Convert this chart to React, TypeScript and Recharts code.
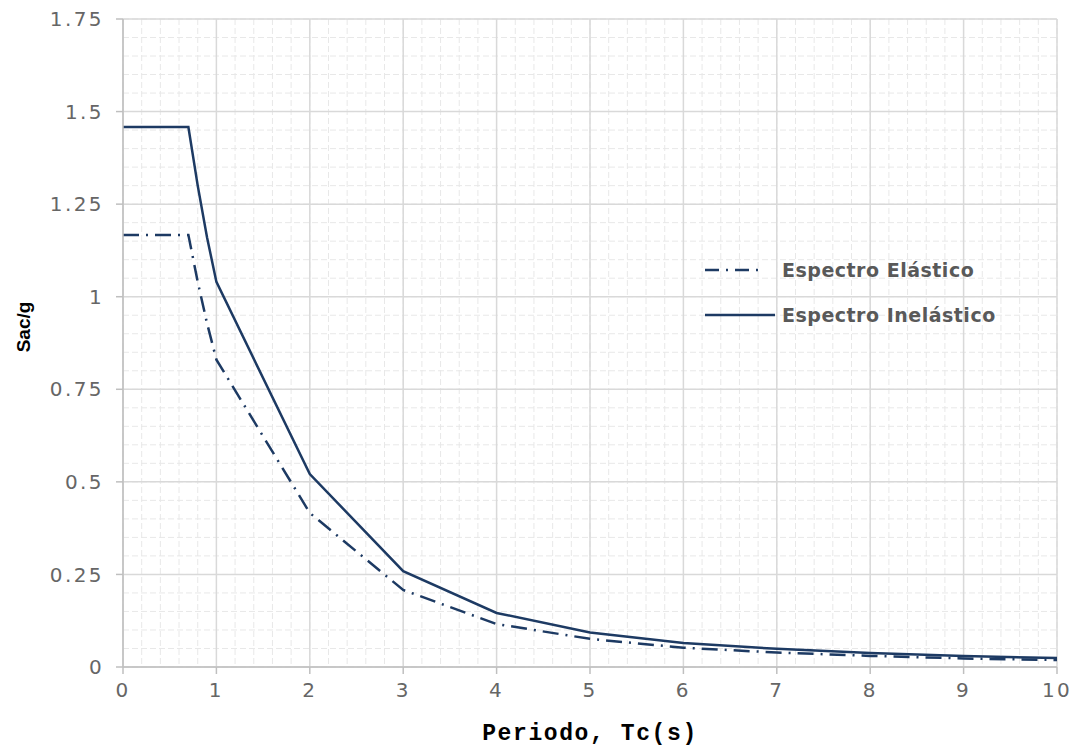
import React from "react"
import {
  LineChart,
  Line,
  XAxis,
  YAxis,
  CartesianGrid,
} from "recharts"

const periods = [0, 0.7, 0.8, 0.9, 1, 2, 3, 4, 5, 6, 7, 8, 9, 10]
const elastic = [1.167, 1.167, 1.04, 0.928, 0.83, 0.416, 0.208, 0.116, 0.076, 0.052, 0.039, 0.03, 0.023, 0.019]
const inelastic = [1.458, 1.458, 1.3, 1.16, 1.04, 0.521, 0.259, 0.146, 0.093, 0.065, 0.049, 0.038, 0.03, 0.024]

const xTicks = [0, 1, 2, 3, 4, 5, 6, 7, 8, 9, 10]
const yTicks = [0, 0.25, 0.5, 0.75, 1, 1.25, 1.5, 1.75]
const xMinor = Array.from({ length: 51 }, (_, i) => +(i * 0.2).toFixed(2))
const yMinor = Array.from({ length: 36 }, (_, i) => +(i * 0.05).toFixed(2))

const data = periods.map((t, i) => ({ t, elastic: elastic[i], inelastic: inelastic[i] }))

const LINE = "#1d3a63"
const TICK_FONT = { fontFamily: "DejaVu Sans", fontSize: 20, fill: "#666", letterSpacing: 2.4 }

// minor grid at 0.2 / 0.05 steps
const minorX = ({ xAxis, offset }: any) =>
  xMinor.map((v) =>
    typeof xAxis?.scale === "function" ? xAxis.scale(v) : offset.left + (v / 10) * offset.width
  )
const minorY = ({ yAxis, offset }: any) =>
  yMinor.map((v) =>
    typeof yAxis?.scale === "function" ? yAxis.scale(v) : offset.top + offset.height - (v / 1.75) * offset.height
  )

const LegendBox = () => (
  <svg width={340} height={80} style={{ position: "absolute", left: 700, top: 252 }}>
    <line x1={5} y1={18} x2={61} y2={18} stroke={LINE} strokeWidth={2.5} strokeDasharray="14 7 2 7" />
    <text x={82} y={25} fontFamily="DejaVu Sans" fontWeight="bold" fontSize={19} letterSpacing={0.5} fill="#595959">
      Espectro Elástico
    </text>
    <line x1={5} y1={63} x2={75} y2={63} stroke={LINE} strokeWidth={2.5} />
    <text x={82} y={70} fontFamily="DejaVu Sans" fontWeight="bold" fontSize={19} letterSpacing={0.5} fill="#595959">
      Espectro Inelástico
    </text>
  </svg>
)

export default function App() {
  return (
    <div style={{ position: "absolute", left: 0, top: 0, width: 1083, height: 749, background: "#fff" }}>
      <LineChart width={1083} height={749} data={data} margin={{ top: 19, right: 26, left: 0, bottom: 0 }}>
        <CartesianGrid
          stroke="#e8e8e8"
          strokeDasharray="6 3"
          verticalCoordinatesGenerator={minorX}
          horizontalCoordinatesGenerator={minorY}
        />
        <CartesianGrid stroke="#d9d9d9" strokeWidth={1.5} />
        <XAxis
          dataKey="t"
          type="number"
          domain={[0, 10]}
          ticks={xTicks}
          height={82}
          tickSize={7}
          tickMargin={9}
          stroke="#bfbfbf"
          strokeWidth={1.5}
          tick={TICK_FONT}
          label={({ viewBox }: any) => (
            <text
              x={viewBox.x + viewBox.width / 2}
              y={740}
              textAnchor="middle"
              fontFamily="Liberation Mono"
              fontWeight="bold"
              fontSize={23}
              letterSpacing={1.6}
              fill="#000"
            >
              Periodo, Tc(s)
            </text>
          )}
        />
        <YAxis
          type="number"
          domain={[0, 1.75]}
          ticks={yTicks}
          width={123}
          tickSize={7}
          tickMargin={12}
          stroke="#bfbfbf"
          strokeWidth={1.5}
          tick={TICK_FONT}
          label={() => (
            <text
              x={0}
              y={0}
              transform="translate(30, 327) rotate(-90)"
              textAnchor="middle"
              fontFamily="Liberation Sans"
              fontWeight="bold"
              fontSize={19}
              fill="#000"
            >
              Sac/g
            </text>
          )}
        />
        <Line
          dataKey="elastic"
          type="linear"
          stroke={LINE}
          strokeWidth={2.5}
          strokeDasharray="16 7 2 7"
          dot={false}
          isAnimationActive={false}
        />
        <Line
          dataKey="inelastic"
          type="linear"
          stroke={LINE}
          strokeWidth={2.5}
          dot={false}
          isAnimationActive={false}
        />
      </LineChart>
      <LegendBox />
    </div>
  )
}
